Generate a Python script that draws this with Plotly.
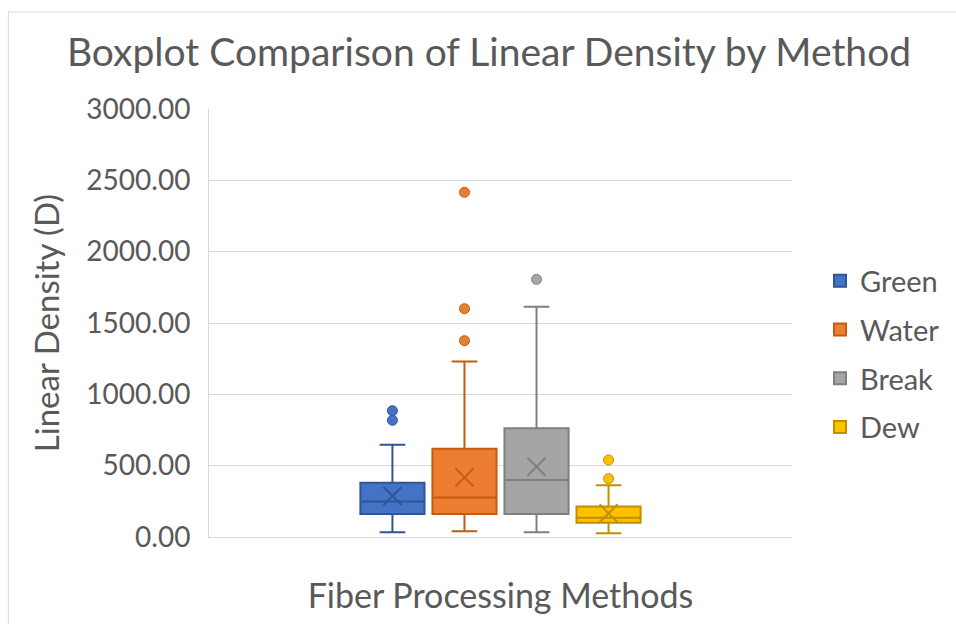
import plotly.graph_objects as go

methods = ["Green", "Water", "Break", "Dew"]
q1 = [161, 161, 161, 100]
median = [248, 276, 400, 135]
q3 = [380, 619, 762, 213]
lower_whisker = [33, 40, 33, 26]
upper_whisker = [647, 1231, 1614, 362]
means = [287, 418, 493, 166]
outliers = [[885, 818], [2416, 1600, 1376], [1806], [540, 409]]

fill_colors = ["#4472C4", "#ED7D31", "#A5A5A5", "#FFC000"]
line_colors = ["#2F5597", "#C55A11", "#7F7F7F", "#BF9000"]

FONT = "Lato"
TXT = "#595959"

fig = go.Figure()
cat = [""]
for i, m in enumerate(methods):
    fig.add_trace(go.Box(
        name=m, x=cat, q1=[q1[i]], median=[median[i]], q3=[q3[i]],
        lowerfence=[lower_whisker[i]], upperfence=[upper_whisker[i]],
        fillcolor=fill_colors[i], line=dict(color=line_colors[i], width=2),
        whiskerwidth=0.4, boxpoints=False, offsetgroup=m, legendgroup=m,
    ))
for i, m in enumerate(methods):
    fig.add_trace(go.Box(
        name=m, x=cat * len(outliers[i]), y=outliers[i],
        offsetgroup=m, legendgroup=m, showlegend=False,
        boxpoints="all", jitter=0, pointpos=0,
        fillcolor="rgba(0,0,0,0)", line=dict(color="rgba(0,0,0,0)", width=0),
        marker=dict(color=fill_colors[i], size=10, line=dict(color=line_colors[i], width=1)),
        hoveron="points",
    ))
for i, m in enumerate(methods):
    fig.add_trace(go.Box(
        name=m, x=cat, y=[means[i]],
        offsetgroup=m, legendgroup=m, showlegend=False,
        boxpoints="all", jitter=0, pointpos=0,
        fillcolor="rgba(0,0,0,0)", line=dict(color="rgba(0,0,0,0)", width=0),
        marker=dict(symbol="x-thin-open", color=line_colors[i], size=18,
                    line=dict(color=line_colors[i], width=2)),
        hoveron="points",
    ))

L, R, T, B = 209, 163, 109, 87
W, H = 956, 624
pw, ph = W - L - R, H - T - B

fig.update_layout(
    width=W, height=H,
    margin=dict(l=L, r=R, t=T, b=B),
    paper_bgcolor="white", plot_bgcolor="white",
    boxmode="group", boxgap=0.49, boxgroupgap=0.11,
    font=dict(family=FONT, color=TXT),
    title=dict(text="Boxplot Comparison of Linear Density by Method",
               x=489 / W, xanchor="center", y=1 - 52 / H, yanchor="middle",
               font=dict(size=39, color=TXT, family=FONT)),
    xaxis=dict(type="category", showticklabels=False, showgrid=False,
               showline=True, linecolor="#d9d9d9", linewidth=1,
               title=dict(text="Fiber Processing Methods", font=dict(size=34, color=TXT), standoff=47)),
    yaxis=dict(range=[0, 3000], dtick=500, tickformat=".2f",
               tickfont=dict(size=28, color=TXT), ticklabelstandoff=12,
               showgrid=True, gridcolor="#d9d9d9", gridwidth=1,
               showline=True, linecolor="#d9d9d9", linewidth=1,
               zeroline=False, ticks="", ticklen=0,
               title=dict(text="Linear Density (D)", font=dict(size=33, color=TXT), standoff=16)),
    legend=dict(x=(820 - L) / pw, xanchor="left", y=(T + ph - 354) / ph, yanchor="middle",
                font=dict(size=29, color=TXT), tracegroupgap=8, itemsizing="constant"),
    shapes=[dict(type="rect", xref="paper", yref="paper",
                 x0=(8 - L) / pw, x1=(W + 5 - L) / pw,
                 y0=(T + ph - (H + 5)) / ph, y1=(T + ph - 12) / ph,
                 line=dict(color="#d9d9d9", width=1), layer="below")],
)

fig.write_html("out.html")
